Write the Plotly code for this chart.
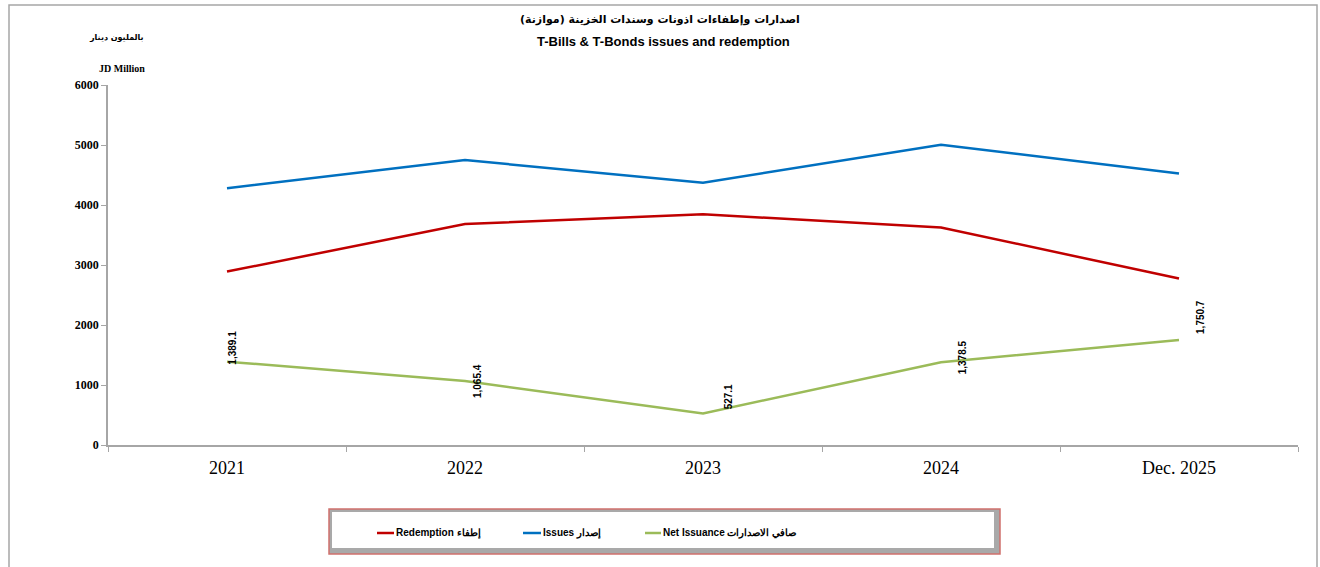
import plotly.graph_objects as go

# Treasury bills & bonds (JD million)
periods = ["2021", "2022", "2023", "2024", "Dec. 2025"]
redemption = [2890.0, 3683.0, 3845.0, 3625.0, 2775.0]
issues = [4279.1, 4748.4, 4372.1, 5003.5, 4525.7]
net_issuance = [1389.1, 1065.4, 527.1, 1378.5, 1750.7]

series_names = ["Redemption إطفاء", "Issues إصدار", "Net Issuance صافي الاصدارات"]
series_colors = ["#C00000", "#0070C0", "#9BBB59"]
series_values = [redemption, issues, net_issuance]

y_ticks = [0, 1000, 2000, 3000, 4000, 5000, 6000]

W, H = 1320, 567
L, R, T, B = 108, 22, 85, 122
PW, PH = W - L - R, H - T - B


def px(x):
    return (x - L) / PW


def py(y):
    return (H - B - y) / PH


fig = go.Figure()
for name, color, vals in zip(series_names, series_colors, series_values):
    fig.add_trace(go.Scatter(x=periods, y=vals, mode="lines", name=name,
                             line=dict(color=color, width=2.5),
                             showlegend=False, cliponaxis=False))

# rotated value labels on the net issuance line (x given as category index)
label_shift = [(6, 14), (12, 0), (25, 16), (21, 5), (22, 23)]
for i, (v, (dx, dy)) in enumerate(zip(net_issuance, label_shift)):
    fig.add_annotation(x=i, y=v, xref="x", yref="y", text=f"<b>{v:,.1f}</b>",
                       showarrow=False, textangle=-90, xshift=dx, yshift=dy,
                       font=dict(family="Liberation Sans, Arial", size=10, color="#000000"),
                       xanchor="center", yanchor="middle")

shapes = [
    # outer chart frame
    dict(type="rect", xref="paper", yref="paper", x0=px(9), x1=px(1317), y0=py(5), y1=py(620),
         line=dict(color="#a6a6a6", width=1.5), fillcolor="rgba(0,0,0,0)", layer="below"),
    # legend box with bevel
    dict(type="rect", xref="paper", yref="paper", x0=px(329), x1=px(1000), y0=py(509), y1=py(554),
         line=dict(color="#d0706c", width=1.5), fillcolor="#a9a9a9", layer="below"),
    dict(type="rect", xref="paper", yref="paper", x0=px(332), x1=px(994), y0=py(512), y1=py(548),
         line=dict(width=0), fillcolor="#ffffff", layer="below"),
]

annotations = [
    dict(text="<b>اصدارات وإطفاءات اذونات وسندات الخزينة (موازنة)</b>", x=px(660), y=py(20),
         font=dict(family="DejaVu Sans, Liberation Sans", size=11)),
    dict(text="<b>T-Bills & T-Bonds issues and redemption</b>", x=px(663), y=py(41),
         font=dict(family="Liberation Sans, Arial", size=13)),
    dict(text="<b>بالمليون دينار</b>", x=px(116), y=py(37),
         font=dict(family="DejaVu Sans, Liberation Sans", size=8)),
    dict(text="<b>JD Million</b>", x=px(122), y=py(69),
         font=dict(family="Liberation Serif, Times New Roman", size=10)),
]

# legend entries
legend_items = [(377, 394), (523, 541), (645, 661)]
for (x0, x1), name, color in zip(legend_items, series_names, series_colors):
    shapes.append(dict(type="line", xref="paper", yref="paper", x0=px(x0), x1=px(x1),
                       y0=py(533), y1=py(533), line=dict(color=color, width=2.5)))
    annotations.append(dict(text=f"<b>{name}</b>", x=px(x1), y=py(533), xanchor="left",
                            font=dict(family="Liberation Sans, Arial", size=10)))

for a in annotations:
    a.setdefault("xanchor", "center")
    a.update(xref="paper", yref="paper", showarrow=False, yanchor="middle")
    a["font"]["color"] = "#000000"
    fig.add_annotation(**a)

fig.update_layout(
    width=W, height=H,
    margin=dict(l=L, r=R, t=T, b=B),
    paper_bgcolor="#ffffff", plot_bgcolor="#ffffff",
    shapes=shapes,
    showlegend=False,
    xaxis=dict(type="category", tickson="boundaries", ticks="outside", ticklen=5,
               tickcolor="#a6a6a6", showline=True, linecolor="#a6a6a6", linewidth=1.5,
               showgrid=False, zeroline=False, ticklabelstandoff=6,
               tickfont=dict(family="Liberation Serif, Times New Roman", size=18, color="#000000"),
               range=[-0.5, 4.5]),
    yaxis=dict(range=[0, 6000], tickvals=y_ticks, ticktext=[f"<b>{t}</b>" for t in y_ticks],
               ticks="outside", ticklen=5, tickcolor="#a6a6a6", showline=True,
               linecolor="#a6a6a6", linewidth=1.5, showgrid=False, zeroline=False,
               tickfont=dict(family="Liberation Serif, Times New Roman", size=12, color="#000000")),
)

fig.write_html("out.html")
